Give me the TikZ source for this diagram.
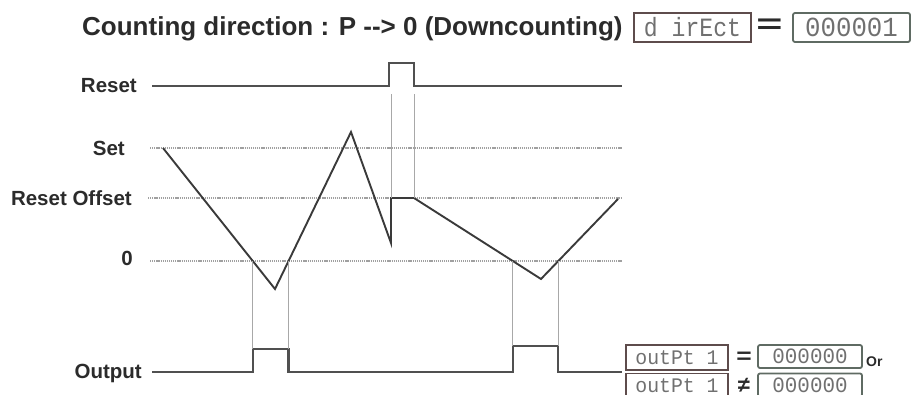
\documentclass[tikz,border=0pt]{standalone}
\usepackage{fontspec}
\setmainfont{Liberation Sans}
\newfontfamily\segfont{Liberation Mono}
\definecolor{textc}{HTML}{2B2B2B}
\definecolor{wavec}{HTML}{3A3A3A}
\definecolor{rstc}{HTML}{505050}
\definecolor{dotc}{HTML}{A0A0A0}
\definecolor{vlc}{HTML}{A8A8A8}
\definecolor{segc}{HTML}{707070}
\definecolor{boxa}{HTML}{5E4C4C}
\definecolor{boxb}{HTML}{5F6B63}
\begin{document}
\begin{tikzpicture}[x=1pt,y=-1pt,
  lbl/.style={font=\bfseries\fontsize{20.5}{22}\selectfont, text=textc, inner sep=0, anchor=base east},
  wave/.style={draw=wavec, line width=1.9pt, line join=miter},
  sig/.style={draw=rstc, line width=2.2pt},
  refline/.style={draw=dotc, line width=1.2pt, dash pattern=on 1.2pt off 0.9pt},
  vline/.style={draw=vlc, line width=0.8pt},
  segbox/.style={draw=boxa, line width=1.3pt, inner sep=0, text=segc, font=\segfont\fontsize{22}{22}\selectfont},
  numbox/.style={draw=boxb, line width=1.8pt, rounded corners=2pt, inner sep=0, text=segc, font=\segfont\fontsize{23}{23}\selectfont},
  eqsign/.style={inner sep=0, text=textc, font=\bfseries\fontsize{28}{28}\selectfont}
]
\useasboundingbox (0,0) rectangle (913,394);

% title row
\node[anchor=base west, inner sep=0, text=textc, font=\bfseries\fontsize{26}{28}\selectfont] (title) at (82,35) {Counting direction : P -{}-{}> 0 (Downcounting)};
\node[segbox, minimum width=117pt, minimum height=29pt] (dirbox) at (692.5,27.5) {\scalebox{1.05}[1.2]{d irEct}};
\node[eqsign] (eqa) at (769.5,26.5) {\scalebox{1.6}[1]{=}};
\node[numbox, minimum width=117pt, minimum height=29pt] (setbox) at (851.5,27.5) {\scalebox{1.12}[1.2]{000001}};

% labels
\node[lbl] (lreset) at (137,92) {Reset};
\node[lbl] (lset) at (125,155) {Set};
\node[lbl] (loff) at (132,205) {Reset Offset};
\node[lbl] (lzero) at (133,265) {0};
\node[lbl] (lout) at (142,378) {Output};

% reference (dotted) lines
\coordinate (s0) at (150,148); \coordinate (s1) at (622,148);
\coordinate (r0) at (148,198); \coordinate (r1) at (622,198);
\coordinate (z0) at (150,261); \coordinate (z1) at (622,261);
\draw[refline] (s0) -- (s1);
\draw[refline] (r0) -- (r1);
\draw[refline] (z0) -- (z1);

% waveform
\coordinate (w0) at (163,148);
\coordinate (w1) at (275,289);
\coordinate (w2) at (351,132);
\coordinate (w3) at (391,243);
\coordinate (w4) at (391,198);
\coordinate (w5) at (414,198);
\coordinate (w6) at (541,279);
\coordinate (w7) at (618,199);
\draw[wave] (w0) -- (w1) -- (w2) -- (w3) -- (w4) -- (w5) -- (w6) -- (w7);

% zero crossings
\coordinate (c1) at (intersection of w0--w1 and z0--z1);
\coordinate (c2) at (intersection of w1--w2 and z0--z1);
\coordinate (c3) at (intersection of w5--w6 and z0--z1);
\coordinate (c4) at (intersection of w6--w7 and z0--z1);

% reset signal
\coordinate (rs0) at (152,86);
\coordinate (rsa) at (389,86);
\coordinate (rsb) at (414,86);
\coordinate (rs1) at (622,86);
\draw[sig] (rs0) -- (rsa) -- ++(0,-23) -| (rsb) -- (rs1);

% output signal
\coordinate (o0) at (152,372);
\coordinate (o1) at (622,372);
\coordinate (oh1) at (0,349);
\coordinate (oh2) at (0,346);
\draw[sig] (o0) -- (c1 |- o0) -- (c1 |- oh1) -- (c2 |- oh1) -- (c2 |- o0)
  -- (c3 |- o0) -- (c3 |- oh2) -- (c4 |- oh2) -- (c4 |- o0) -- (o1);

% thin vertical guides
\coordinate (rg) at (0,94);
\draw[vline] (w4 |- rg) -- (w4);
\draw[vline] (w5 |- rg) -- (w5);
\draw[vline] (c1) -- (c1 |- oh1);
\draw[vline] (c2) -- (c2 |- oh1);
\draw[vline] (c3) -- (c3 |- oh2);
\draw[vline] (c4) -- (c4 |- oh2);

% output condition boxes
\node[segbox, minimum width=102pt, minimum height=25pt, font=\segfont\fontsize{18}{18}\selectfont] (outa) at (677,357.5) {\scalebox{1.1}[1.15]{outPt 1}};
\node[eqsign, font=\bfseries\fontsize{22}{22}\selectfont] (eqb) at (744,357.5) {\scalebox{1.2}[1]{=}};
\node[numbox, minimum width=104pt, minimum height=23pt, font=\segfont\fontsize{19}{19}\selectfont] (vala) at (810,356.5) {\scalebox{1.1}[1.15]{000000}};
\node[inner sep=0, anchor=base west, text=textc, font=\bfseries\fontsize{14}{14}\selectfont] (lor) at (866,366) {Or};
\node[segbox, minimum width=102pt, minimum height=25pt, font=\segfont\fontsize{18}{18}\selectfont] (outb) at (677,386) {\scalebox{1.1}[1.15]{outPt 1}};
\node[eqsign, font=\bfseries\fontsize{22}{22}\selectfont] (neq) at (744,385) {≠};
\node[numbox, minimum width=104pt, minimum height=23pt, font=\segfont\fontsize{19}{19}\selectfont] (valb) at (810,385) {\scalebox{1.1}[1.15]{000000}};
\end{tikzpicture}
\end{document}
